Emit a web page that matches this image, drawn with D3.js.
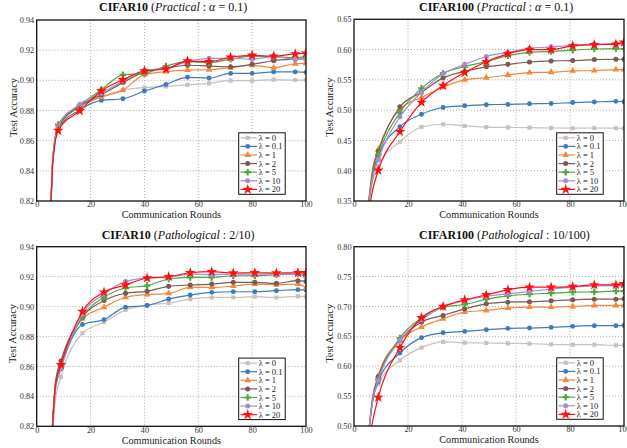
<!DOCTYPE html>
<html>
<head>
<meta charset="utf-8">
<script src="https://cdn.jsdelivr.net/npm/d3@7"></script>
<style>
  html, body { margin: 0; padding: 0; background: #fff; }
  svg { display: block; }
  svg text { font-family: "Liberation Serif", "Times New Roman", Times, serif !important; }
</style>
</head>
<body>
<svg id="fig" width="627" height="448"></svg>
<script>
// ---- data -------------------------------------------------------------
const lambdaLabels = ["λ = 0", "λ = 0.1", "λ = 1", "λ = 2", "λ = 5", "λ = 10", "λ = 20"];

// evaluation rounds (first two points are the warm-up before markers start)
const roundsEvery8 = [5, 6, 8, 16, 24, 32, 40, 48, 56, 64, 72, 80, 88, 96, 100];
const roundsFrom9  = [5, 7, 9, 17, 25, 33, 41, 49, 57, 65, 73, 81, 89, 97, 100];
const warmupPoints = 2;

// CIFAR10, practical (alpha = 0.1)
const c10PracLam0   = [0.80, 0.848, 0.8693, 0.8822, 0.8890, 0.8935, 0.8952, 0.8960, 0.8970, 0.8980, 0.8998, 0.8998, 0.9005, 0.9002, 0.9002];
const c10PracLam01  = [0.80, 0.847, 0.8680, 0.8804, 0.8867, 0.8878, 0.8929, 0.8973, 0.9020, 0.9015, 0.9046, 0.9046, 0.9056, 0.9056, 0.9053];
const c10PracLam1   = [0.80, 0.848, 0.8688, 0.8825, 0.8889, 0.8935, 0.9038, 0.9058, 0.9068, 0.9070, 0.9084, 0.9100, 0.9084, 0.9110, 0.9113];
const c10PracLam2   = [0.80, 0.848, 0.8690, 0.8830, 0.8905, 0.8985, 0.9056, 0.9080, 0.9100, 0.9095, 0.9090, 0.9106, 0.9130, 0.9140, 0.9140];
const c10PracLam5   = [0.80, 0.849, 0.8707, 0.8835, 0.8938, 0.9036, 0.9046, 0.9095, 0.9124, 0.9117, 0.9140, 0.9160, 0.9157, 0.9150, 0.9157];
const c10PracLam10  = [0.80, 0.849, 0.8695, 0.8842, 0.8914, 0.8995, 0.9066, 0.9080, 0.9124, 0.9146, 0.9146, 0.9140, 0.9157, 0.9140, 0.9140];
const c10PracLam20  = [0.80, 0.845, 0.8667, 0.8798, 0.8929, 0.9004, 0.9062, 0.9075, 0.9128, 0.9124, 0.9153, 0.9166, 0.9160, 0.9175, 0.9180];

// CIFAR100, practical (alpha = 0.1)
const c100PracLam0  = [0.33, 0.385, 0.4083, 0.4478, 0.4722, 0.4767, 0.4739, 0.4720, 0.4715, 0.4712, 0.4705, 0.4702, 0.4705, 0.4702, 0.4700];
const c100PracLam01 = [0.33, 0.395, 0.4239, 0.4728, 0.4933, 0.5044, 0.5072, 0.5090, 0.5095, 0.5105, 0.5110, 0.5125, 0.5135, 0.5145, 0.5140];
const c100PracLam1  = [0.33, 0.405, 0.4350, 0.5017, 0.5210, 0.5378, 0.5500, 0.5535, 0.5580, 0.5620, 0.5625, 0.5648, 0.5653, 0.5670, 0.5670];
const c100PracLam2  = [0.33, 0.403, 0.4322, 0.5056, 0.5294, 0.5533, 0.5640, 0.5716, 0.5756, 0.5795, 0.5813, 0.5818, 0.5835, 0.5840, 0.5840];
const c100PracLam5  = [0.33, 0.398, 0.4267, 0.4960, 0.5360, 0.5610, 0.5720, 0.5800, 0.5900, 0.5955, 0.5970, 0.5990, 0.6010, 0.6017, 0.6010];
const c100PracLam10 = [0.33, 0.390, 0.4183, 0.4889, 0.5294, 0.5600, 0.5756, 0.5886, 0.5955, 0.6020, 0.6045, 0.6070, 0.6090, 0.6100, 0.6100];
const c100PracLam20 = [0.32, 0.370, 0.4006, 0.4644, 0.5128, 0.5406, 0.5620, 0.5800, 0.5930, 0.6000, 0.6000, 0.6060, 0.6080, 0.6090, 0.6120];

// CIFAR10, pathological (2/10)
const c10PathLam0   = [0.79, 0.838, 0.8529, 0.8822, 0.8896, 0.8978, 0.9010, 0.9024, 0.9050, 0.9061, 0.9061, 0.9066, 0.9061, 0.9068, 0.9068];
const c10PathLam01  = [0.79, 0.845, 0.8584, 0.8880, 0.8913, 0.8996, 0.9007, 0.9050, 0.9077, 0.9095, 0.9099, 0.9099, 0.9106, 0.9113, 0.9110];
const c10PathLam1   = [0.79, 0.848, 0.8611, 0.8918, 0.8996, 0.9062, 0.9080, 0.9088, 0.9128, 0.9128, 0.9137, 0.9150, 0.9146, 0.9150, 0.9124];
const c10PathLam2   = [0.79, 0.850, 0.8636, 0.8929, 0.9040, 0.9089, 0.9102, 0.9135, 0.9144, 0.9150, 0.9162, 0.9162, 0.9155, 0.9173, 0.9168];
const c10PathLam5   = [0.79, 0.848, 0.8607, 0.8933, 0.9062, 0.9124, 0.9140, 0.9184, 0.9195, 0.9195, 0.9206, 0.9206, 0.9213, 0.9217, 0.9217];
const c10PathLam10  = [0.79, 0.846, 0.8591, 0.8951, 0.9084, 0.9167, 0.9190, 0.9195, 0.9217, 0.9213, 0.9217, 0.9217, 0.9217, 0.9217, 0.9195];
const c10PathLam20  = [0.79, 0.848, 0.8611, 0.8967, 0.9096, 0.9144, 0.9191, 0.9200, 0.9226, 0.9233, 0.9224, 0.9226, 0.9224, 0.9226, 0.9226];

// CIFAR100, pathological (10/100)
const c100PathLam0  = [0.47, 0.545, 0.5700, 0.6100, 0.6311, 0.6406, 0.6394, 0.6389, 0.6383, 0.6378, 0.6367, 0.6361, 0.6361, 0.6350, 0.6350];
const c100PathLam01 = [0.47, 0.545, 0.5739, 0.6222, 0.6478, 0.6561, 0.6583, 0.6611, 0.6633, 0.6639, 0.6650, 0.6667, 0.6678, 0.6678, 0.6683];
const c100PathLam1  = [0.47, 0.550, 0.5839, 0.6433, 0.6656, 0.6794, 0.6906, 0.6933, 0.6972, 0.6989, 0.6989, 0.7000, 0.7017, 0.7017, 0.7017];
const c100PathLam2  = [0.47, 0.550, 0.5822, 0.6433, 0.6739, 0.6850, 0.6960, 0.7044, 0.7072, 0.7078, 0.7094, 0.7111, 0.7122, 0.7122, 0.7128];
const c100PathLam5  = [0.47, 0.545, 0.5778, 0.6472, 0.6806, 0.6990, 0.7033, 0.7122, 0.7178, 0.7206, 0.7222, 0.7239, 0.7244, 0.7256, 0.7256];
const c100PathLam10 = [0.47, 0.545, 0.5767, 0.6433, 0.6778, 0.6990, 0.7100, 0.7167, 0.7211, 0.7250, 0.7289, 0.7322, 0.7344, 0.7350, 0.7350];
const c100PathLam20 = [0.46, 0.510, 0.5478, 0.6311, 0.6811, 0.7000, 0.7110, 0.7194, 0.7278, 0.7322, 0.7322, 0.7333, 0.7360, 0.7360, 0.7378];

// axis ticks
const xTicks     = [0, 20, 40, 60, 80, 100];
const yTicksC10  = [0.82, 0.84, 0.86, 0.88, 0.90, 0.92, 0.94];
const yTicksC100Prac = [0.35, 0.40, 0.45, 0.50, 0.55, 0.60, 0.65];
const yTicksC100Path = [0.50, 0.55, 0.60, 0.65, 0.70, 0.75, 0.80];

// panel titles
const titleDatasets = ["CIFAR10", "CIFAR100", "CIFAR10", "CIFAR100"];
const titleSettings = ["Practical", "Practical", "Pathological", "Pathological"];
const titleParams   = [["α", " = 0.1)"], ["α", " = 0.1)"], ["", "2/10)"], ["", "10/100)"]];

// ---- styling --------------------------------------------------------
const serif = "'Liberation Serif', 'Times New Roman', Times, serif";
const colors  = ["#cbbfbf", "#3f7abd", "#f5883a", "#7b5a51", "#4ea843", "#a98bd3", "#ff1010"];
const symbols = [d3.symbolSquare, d3.symbolCircle, d3.symbolTriangle, d3.symbolCircle,
                 d3.symbolCross, d3.symbolCircle, d3.symbolStar];
const symSize = [17, 19, 20, 20, 24, 20, 36];

const panels = [
  { rounds: roundsEvery8, series: [c10PracLam0, c10PracLam01, c10PracLam1, c10PracLam2, c10PracLam5, c10PracLam10, c10PracLam20],
    yTicks: yTicksC10, box: { l: 36.7, r: 306, t: 20, b: 201 }, titleX: 99, titleY: 11, yLabelX: 17 },
  { rounds: roundsFrom9, series: [c100PracLam0, c100PracLam01, c100PracLam1, c100PracLam2, c100PracLam5, c100PracLam10, c100PracLam20],
    yTicks: yTicksC100Prac, box: { l: 354, r: 624, t: 19.3, b: 201 }, titleX: 419, titleY: 11, yLabelX: 332.5 },
  { rounds: roundsFrom9, series: [c10PathLam0, c10PathLam01, c10PathLam1, c10PathLam2, c10PathLam5, c10PathLam10, c10PathLam20],
    yTicks: yTicksC10, box: { l: 36.7, r: 306, t: 246.7, b: 426.3 }, titleX: 101.7, titleY: 239, yLabelX: 16 },
  { rounds: roundsFrom9, series: [c100PathLam0, c100PathLam01, c100PathLam1, c100PathLam2, c100PathLam5, c100PathLam10, c100PathLam20],
    yTicks: yTicksC100Path, box: { l: 354, r: 624, t: 246.7, b: 426 }, titleX: 419, titleY: 239, yLabelX: 333 }
];

const svg = d3.select("#fig");

panels.forEach((p, pi) => {
  const { l, r, t, b } = p.box;
  const x = d3.scaleLinear().domain([0, 100]).range([l, r]);
  const y = d3.scaleLinear().domain([p.yTicks[0], p.yTicks[p.yTicks.length - 1]]).range([b, t]);
  const g = svg.append("g");

  // clip region for the plot area
  const clipId = "clip" + pi;
  svg.append("clipPath").attr("id", clipId)
    .append("rect").attr("x", l).attr("y", t).attr("width", r - l).attr("height", b - t);

  // dotted grid
  const grid = g.append("g").attr("stroke", "#a0a0a0").attr("stroke-width", 0.9)
    .attr("stroke-dasharray", "1,2");
  grid.selectAll("line.vx").data(xTicks.slice(1, -1)).join("line")
    .attr("x1", d => x(d)).attr("x2", d => x(d)).attr("y1", t).attr("y2", b);
  grid.selectAll("line.hy").data(p.yTicks.slice(1, -1)).join("line")
    .attr("x1", l).attr("x2", r).attr("y1", d => y(d)).attr("y2", d => y(d));

  // axes (ticks hidden, labels only)
  const xAxis = d3.axisBottom(x).tickValues(xTicks).tickSize(0).tickPadding(0.6).tickFormat(d3.format("d"));
  const yAxis = d3.axisLeft(y).tickValues(p.yTicks).tickSize(0).tickPadding(2.5).tickFormat(d3.format(".2f"));
  const gx = g.append("g").attr("transform", `translate(0,${b})`).call(xAxis);
  const gy = g.append("g").attr("transform", `translate(${l},0)`).call(yAxis);
  [gx, gy].forEach(a => {
    a.attr("font-family", null);
    a.select(".domain").remove();
    a.selectAll("text").style("font-family", serif).attr("font-size", 8.2).attr("fill", "#333");
  });
  gx.selectAll("text").attr("dy", "0.7em");

  // series lines + markers
  const line = d3.line().x((d, i) => x(p.rounds[i])).y(d => y(d)).curve(d3.curveMonotoneX);
  const plot = g.append("g").attr("clip-path", `url(#${clipId})`);
  p.series.forEach((vals, si) => {
    plot.append("path").datum(vals)
      .attr("fill", "none").attr("stroke", colors[si]).attr("stroke-width", 1.2)
      .attr("stroke-linejoin", "round").attr("d", line);
    const pts = vals.map((v, i) => ({ r: p.rounds[i], v })).slice(warmupPoints);
    plot.selectAll(null).data(pts).join("path")
      .attr("transform", d => `translate(${x(d.r)},${y(d.v)})`)
      .attr("d", d3.symbol(symbols[si], symSize[si]))
      .attr("fill", colors[si]);
  });

  // frame
  g.append("rect").attr("x", l).attr("y", t).attr("width", r - l).attr("height", b - t)
    .attr("fill", "none").attr("stroke", "#111").attr("stroke-width", 1.3);

  // axis titles
  g.append("text").attr("x", (l + r) / 2).attr("y", b + 17.3).attr("text-anchor", "middle")
    .style("font-family", serif).attr("font-size", 10.2).attr("fill", "#222").text("Communication Rounds");
  g.append("text").attr("transform", `translate(${p.yLabelX},${(t + b) / 2 - 3}) rotate(-90)`)
    .attr("text-anchor", "middle").style("font-family", serif).attr("font-size", 10.4)
    .attr("fill", "#222").text("Test Accuracy");

  // panel title
  const title = g.append("text").attr("x", p.titleX).attr("y", p.titleY)
    .style("font-family", serif).attr("font-size", 12).attr("fill", "#111");
  title.append("tspan").attr("font-weight", "bold").text(titleDatasets[pi]);
  title.append("tspan").text(" (");
  title.append("tspan").attr("font-style", "italic").text(titleSettings[pi]);
  title.append("tspan").text(" : ");
  if (titleParams[pi][0]) title.append("tspan").attr("font-style", "italic").text(titleParams[pi][0]);
  title.append("tspan").text(titleParams[pi][1]);

  // legend
  const lw = 46.5, lh = 61.5, rowH = 8.6;
  const lx = r - 20.8 - lw, ly = b - 6.7 - lh;
  const lg = g.append("g");
  lg.append("rect").attr("x", lx).attr("y", ly).attr("width", lw).attr("height", lh)
    .attr("fill", "#fff").attr("stroke", "#111").attr("stroke-width", 1);
  lambdaLabels.forEach((lab, si) => {
    const cy = ly + 5 + rowH * si;
    lg.append("line").attr("x1", lx + 1.8).attr("x2", lx + 18.5).attr("y1", cy).attr("y2", cy)
      .attr("stroke", colors[si]).attr("stroke-width", 1.2);
    lg.append("path").attr("transform", `translate(${lx + 9},${cy})`)
      .attr("d", d3.symbol(symbols[si], symSize[si])).attr("fill", colors[si]);
    lg.append("text").attr("x", lx + 20).attr("y", cy + 3).style("font-family", serif)
      .attr("font-size", 8.5).attr("fill", "#222").text(lab);
  });
});
</script>
</body>
</html>
